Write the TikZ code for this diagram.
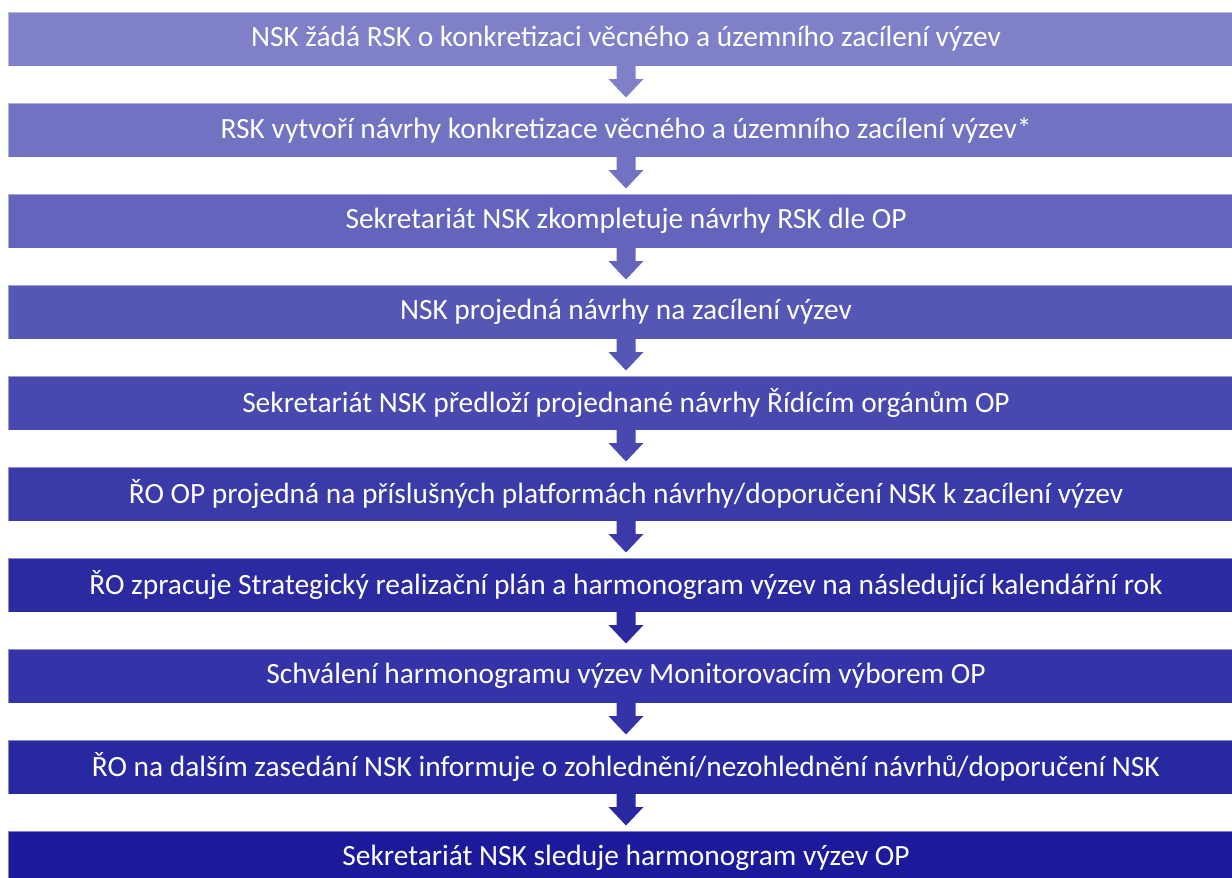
\documentclass[tikz,border=0pt]{standalone}
\usepackage{fontspec}
\setmainfont{Carlito}
\usetikzlibrary{calc}
\definecolor{c1}{HTML}{8080C8}
\definecolor{c2}{HTML}{7272C2}
\definecolor{c3}{HTML}{6464BC}
\definecolor{c4}{HTML}{5656B5}
\definecolor{c5}{HTML}{4848AE}
\definecolor{c6}{HTML}{3A3AA8}
\definecolor{c7}{HTML}{2C2AA1}
\definecolor{c8}{HTML}{3434A8}
\definecolor{c9}{HTML}{2828A0}
\definecolor{c10}{HTML}{1C1A9A}
\tikzset{
  stepbox/.style={rectangle, draw=white, draw opacity=0.45, line width=0.8pt,
    minimum width=1236pt, minimum height=54.2pt, inner sep=0pt,
    text=white, font=\fontsize{29.4}{34}\selectfont, anchor=north},
}
\newcommand{\flowarrow}[3]{%
  \fill[#3] ($(#1.south)+(-9.5pt,1pt)$) -- ($(#1.south)+(-9.5pt,-12.5pt)$)
    -- ($(#1.south)+(-17.5pt,-12.5pt)$) -- ($(#2.north)+(0,5pt)$)
    -- ($(#1.south)+(17.5pt,-12.5pt)$) -- ($(#1.south)+(9.5pt,-12.5pt)$)
    -- ($(#1.south)+(9.5pt,1pt)$) -- cycle;}
\begin{document}
\begin{tikzpicture}[x=1pt,y=1pt]
\useasboundingbox (0,0) rectangle (1232,-878);
\clip (0,0) rectangle (1232,-878);
\fill[white] (0,0) rectangle (1232,-878);
\node[stepbox, fill=c1] (b1) at (626,-11.5) {NSK žádá RSK o konkretizaci věcného a územního zacílení výzev};
\node[stepbox, fill=c2] (b2) at (626,-102.5) {RSK vytvoří návrhy konkretizace věcného a územního zacílení výzev*};
\node[stepbox, fill=c3] (b3) at (626,-193.5) {Sekretariát NSK zkompletuje návrhy RSK dle OP};
\node[stepbox, fill=c4] (b4) at (626,-284.5) {NSK projedná návrhy na zacílení výzev};
\node[stepbox, fill=c5] (b5) at (626,-375.5) {Sekretariát NSK předloží projednané návrhy Řídícím orgánům OP};
\node[stepbox, fill=c6] (b6) at (626,-466.5) {ŘO OP projedná na příslušných platformách návrhy/doporučení NSK k zacílení výzev};
\node[stepbox, fill=c7] (b7) at (626,-557.5) {ŘO zpracuje Strategický realizační plán a harmonogram výzev na následující kalendářní rok};
\node[stepbox, fill=c8] (b8) at (626,-648.5) {Schválení harmonogramu výzev Monitorovacím výborem OP};
\node[stepbox, fill=c9] (b9) at (626,-739.5) {ŘO na dalším zasedání NSK informuje o zohlednění/nezohlednění návrhů/doporučení NSK};
\node[stepbox, fill=c10] (b10) at (626,-830.5) {Sekretariát NSK sleduje harmonogram výzev OP};
\flowarrow{b1}{b2}{c1}
\flowarrow{b2}{b3}{c2}
\flowarrow{b3}{b4}{c3}
\flowarrow{b4}{b5}{c4}
\flowarrow{b5}{b6}{c5}
\flowarrow{b6}{b7}{c6}
\flowarrow{b7}{b8}{c7}
\flowarrow{b8}{b9}{c8}
\flowarrow{b9}{b10}{c9}
\end{tikzpicture}
\end{document}
